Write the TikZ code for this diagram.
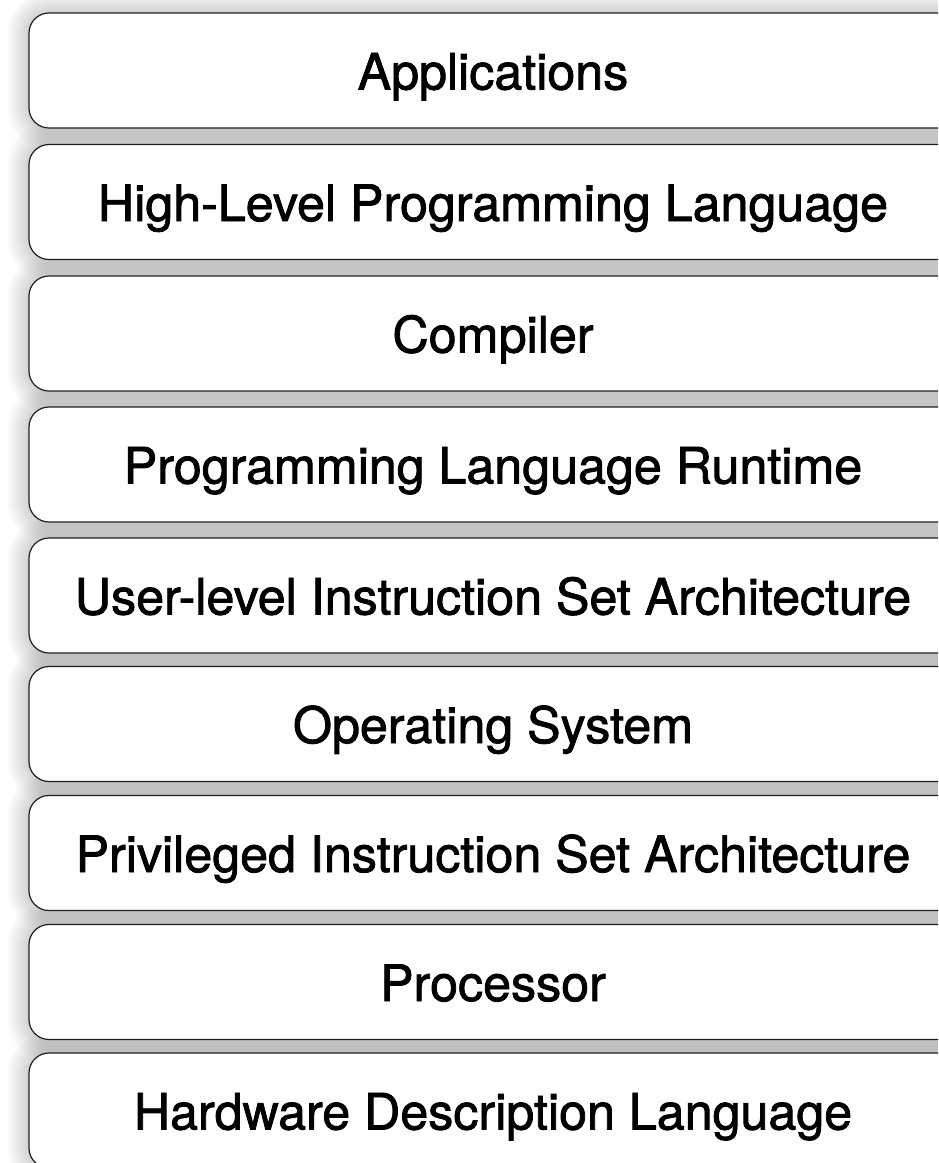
\documentclass[tikz,border=0pt]{standalone}
\usepackage{fontspec}
\setmainfont{TeX Gyre Heros}[BoldFont=TeX Gyre Heros, BoldFeatures={FakeBold=1.6}]
\begin{document}
\begin{tikzpicture}[x=1pt,y=-1pt,
  layerbox/.style={draw=black!88, line width=1.2pt, fill=white,
    rounded corners=20pt, minimum width=928pt, minimum height=115pt,
    inner sep=0pt, font=\fontsize{50.2}{60}\selectfont\bfseries,
    text height=38pt, text depth=0pt}]
\useasboundingbox (0,0) rectangle (938,1163);
\clip (0,0) rectangle (938,1163);
% soft shadows behind every layer
\foreach \t in {13,144.5,276,407,538,666.5,795.5,924.5,1053}{
  \foreach \k in {1,...,22}{
    \fill[black, opacity=0.0075, rounded corners=20+\k]
      (29-\k,\t-\k) rectangle (957+\k,\t+115+\k);
  }
}
% the stack of layers
\foreach \t/\lab [count=\i] in {
  13/Applications,
  144.5/High-Level Programming Language,
  276/Compiler,
  407/Programming Language Runtime,
  538/User-level Instruction Set Architecture,
  666.5/Operating System,
  795.5/Privileged Instruction Set Architecture,
  924.5/Processor,
  1053/Hardware Description Language}{
  \node[layerbox] (b\i) at (493,\t+57.5) {\lab};
}
\end{tikzpicture}
\end{document}
